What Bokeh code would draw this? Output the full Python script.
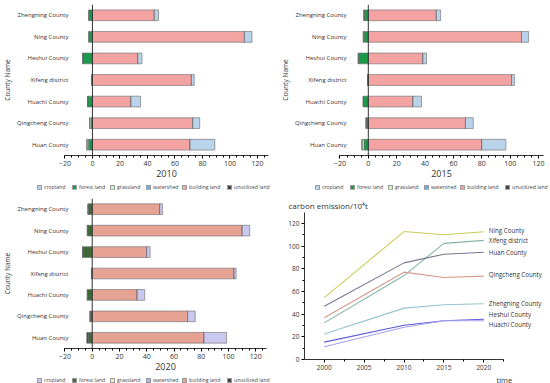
from bokeh.plotting import figure
from bokeh.models import (ColumnDataSource, FactorRange, Range1d, Span, FixedTicker, LabelSet,
                          Title, Div)
from bokeh.layouts import row, column
from bokeh.core.properties import value
from bokeh.embed import file_html
from bokeh.resources import INLINE

FONT = "Open Sans"
TXT = "#333333"

counties = ["Zhengning County", "Ning County", "Heshui County", "Xifeng district",
            "Huachi County", "Qingcheng County", "Huan County"]
land_types = ["cropland", "forest land", "grassland", "watershed", "building land", "unutilized land"]

# 2010
crop_2010 = [3, 5.5, 3, 2, 7, 5, 18]
forest_2010 = [2.5, 2.5, 7, 0.5, 3.5, 1, 3]
grass_2010 = [0, 0, 0, 0, 0, 1, 1]
water_2010 = [0, 0, 0, 0, 0, 0, 0]
build_2010 = [45, 110.5, 33, 72, 28, 73, 71]
unut_2010 = [0, 0, 0, 0, 0, 0, 0]

# 2015
crop_2015 = [3, 5, 2.5, 2, 6, 5.5, 17]
forest_2015 = [3, 3, 7, 0.5, 3.5, 1.5, 3]
grass_2015 = [0, 0.5, 0, 0, 0, 0, 1.5]
water_2015 = [0, 0, 0, 0, 0, 0, 0]
build_2015 = [48, 108, 38.5, 101, 31.5, 68.5, 80]
unut_2015 = [0, 0, 0, 0, 0, 0, 0]

# 2020
crop_2020 = [2, 5.5, 2.5, 1.5, 5.5, 5.5, 16.5]
forest_2020 = [3, 3.5, 7, 0.5, 3.5, 1.5, 3]
grass_2020 = [0, 0, 0, 0, 0, 0, 0]
water_2020 = [0, 0, 0, 0, 0, 0, 0]
build_2020 = [49.5, 110, 40, 104, 33, 70, 82]
unut_2020 = [0, 0, 0, 0, 0, 0, 1]

bar_ticks = [-20, 0, 20, 40, 60, 80, 100, 120]

# carbon emission lines
years = [2000, 2010, 2015, 2020]
line_names = ["Ning County", "Xifeng district", "Huan County", "Qingcheng County",
              "Zhengning County", "Heshui County", "Huachi County"]
ning = [54.5, 112.8, 110, 112.6]
xifeng = [32.3, 74, 102.4, 105]
huan = [47, 85.2, 92.8, 94.6]
qingcheng = [36.8, 77, 72.3, 73.5]
zhengning = [22.5, 45.3, 48.3, 49.1]
heshui = [15.3, 30.2, 34.2, 35.5]
huachi = [11.3, 28.4, 34.2, 34.2]
line_series = [ning, xifeng, huan, qingcheng, zhengning, heshui, huachi]
line_colors = ["#cccc5a", "#86b4a8", "#77778f", "#d49a8a", "#95c3d3", "#5c5cd6", "#aaa2f0"]
label_shift = [1, 0, 0, 1, 0, 4, -3.5]

year_ticks = [2000, 2005, 2010, 2015, 2020]
emission_ticks = [0, 20, 40, 60, 80, 100, 120]

colors_a = ["#b9d3ea", "#1b9a4b", "#cdf2c6", "#5db6e6", "#f4a3a3", "#444444"]
colors_b = ["#cac8ee", "#3f6a38", "#eef2cc", "#aab2f0", "#e6a293", "#444444"]

# legend entry positions (screen px within each legend strip)
legend_x = [37, 72, 110, 146, 182, 227]


def bar_fig(year, crop, forest, grass, water, build, unut, colors, fw, fh, x_end,
            bl, br, bt, lab_off):
    src = ColumnDataSource(dict(
        county=counties, building=build, watershed=water, cropland=crop,
        forest_n=[-v for v in forest], grass_n=[-v for v in grass], unut_n=[-v for v in unut]))
    p = figure(frame_width=fw, frame_height=fh, y_range=FactorRange(factors=counties[::-1]),
               x_range=Range1d(-20.3, x_end), output_backend="svg", toolbar_location=None,
               min_border_left=bl, min_border_right=br, min_border_top=bt, min_border_bottom=25)
    p.outline_line_color = None
    p.grid.grid_line_color = None
    p.hbar_stack(["building", "watershed", "cropland"], y="county", height=0.5,
                 fill_color=[colors[4], colors[3], colors[0]], line_color="#6a6a6a",
                 line_width=0.6, source=src)
    p.hbar_stack(["forest_n", "grass_n", "unut_n"], y="county", height=0.5,
                 fill_color=[colors[1], colors[2], colors[5]], line_color="#6a6a6a",
                 line_width=0.6, source=src)
    p.add_layout(Span(location=0, dimension="height", line_color=TXT, line_width=1))
    xa = p.xaxis[0]
    xa.ticker = FixedTicker(ticks=bar_ticks, minor_ticks=list(range(-20, 128, 5)))
    xa.axis_label = year
    xa.axis_label_text_font = FONT
    xa.axis_label_text_font_size = "9px"
    xa.axis_label_text_font_style = "normal"
    xa.axis_label_text_color = TXT
    xa.axis_label_standoff = 1
    xa.major_label_text_font = FONT
    xa.major_label_text_font_size = "7px"
    xa.major_label_text_color = TXT
    xa.major_label_standoff = 2
    xa.major_tick_out = 3
    xa.major_tick_in = 0
    xa.minor_tick_out = 2
    xa.minor_tick_in = 0
    xa.axis_line_color = TXT
    ya = p.yaxis[0]
    ya.axis_line_color = None
    ya.major_tick_line_color = None
    ya.minor_tick_line_color = None
    ya.major_label_standoff = lab_off
    ya.major_label_text_font = FONT
    ya.major_label_text_font_size = "6px"
    ya.major_label_text_color = TXT
    ya.axis_label = "County Name"
    ya.axis_label_text_font = FONT
    ya.axis_label_text_font_size = "6.5px"
    ya.axis_label_text_font_style = "normal"
    ya.axis_label_text_color = TXT
    ya.axis_label_standoff = 2
    return p


def legend_strip(colors, width, shift):
    parts = []
    for t, c, xp in zip(land_types, colors, legend_x):
        parts.append('<span style="position:absolute;left:%dpx;top:2px;width:5px;height:5px;'
                     'background:%s;box-sizing:border-box;border:0.4px solid #9a9a9a;"></span>'
                     % (xp + shift, c))
        parts.append('<span style="position:absolute;left:%dpx;top:0px;line-height:9px;'
                     'white-space:nowrap;">%s</span>' % (xp + shift + 7, t))
    html = ('<div style="position:relative;width:%dpx;height:9px;overflow:hidden;'
            "font-family:'Open Sans';font-size:5.2px;color:#444444;\">%s</div>"
            % (width, "".join(parts)))
    return Div(text=html, width=width, height=9, margin=0)


p1 = bar_fig("2010", crop_2010, forest_2010, grass_2010, water_2010, build_2010, unut_2010,
             colors_a, 204, 151, 128.0, 63, 8, 4, -10)
p2 = bar_fig("2015", crop_2015, forest_2015, grass_2015, water_2015, build_2015, unut_2015,
             colors_a, 204, 151, 123.5, 63, 8, 4, -13)
p3 = bar_fig("2020", crop_2020, forest_2020, grass_2020, water_2020, build_2020, unut_2020,
             colors_b, 202, 150, 127.8, 63, 10, 9, -10)
l1 = legend_strip(colors_a, 275, 0)
l2 = legend_strip(colors_a, 275, 2)
l3 = legend_strip(colors_b, 275, 0)

# line chart
p4 = figure(frame_width=242, frame_height=147, x_range=Range1d(1997.53, 2027.85),
            y_range=Range1d(0, 129.6), output_backend="svg", toolbar_location=None,
            min_border_left=28, min_border_right=5, min_border_top=23, min_border_bottom=0)
p4.outline_line_color = None
p4.grid.grid_line_color = None
for vals, col in zip(line_series, line_colors):
    p4.line(years, vals, line_color=col, line_width=1.1)
lab_src = ColumnDataSource(dict(x=[years[-1]] * len(line_names),
                                y=[s[-1] + d for s, d in zip(line_series, label_shift)],
                                name=line_names))
p4.add_layout(LabelSet(x="x", y="y", text="name", source=lab_src, x_offset=5,
                       text_font=value(FONT), text_font_size="6.2px", text_color=TXT,
                       text_baseline="middle"))
p4.title.text = "carbon emission/10\u2074t"
p4.title.text_font = FONT
p4.title.text_font_size = "8px"
p4.title.text_font_style = "normal"
p4.title.text_color = TXT
p4.title.offset = -16
p4.title.standoff = 3
p4.add_layout(Title(text="time", align="left", offset=192, standoff=0, text_font=FONT,
                    text_font_size="7.5px", text_font_style="normal", text_color=TXT), "below")
xa = p4.xaxis[0]
xa.bounds = (1997.53, 2022.5)
xa.ticker = FixedTicker(ticks=year_ticks, minor_ticks=[2002.5, 2007.5, 2012.5, 2017.5, 2022.5])
ya = p4.yaxis[0]
ya.ticker = FixedTicker(ticks=emission_ticks, minor_ticks=list(range(10, 130, 20)))
for ax in (xa, ya):
    ax.major_label_text_font = FONT
    ax.major_label_text_font_size = "6.5px"
    ax.major_label_text_color = TXT
    ax.major_label_standoff = 2
    ax.major_tick_out = 3
    ax.major_tick_in = 0
    ax.minor_tick_out = 2
    ax.minor_tick_in = 0
    ax.axis_line_color = TXT

layout = column(row(column(p1, l1), column(p2, l2)), row(column(p3, l3), p4))

with open("out.html", "w") as f:
    f.write(file_html(layout, INLINE))
